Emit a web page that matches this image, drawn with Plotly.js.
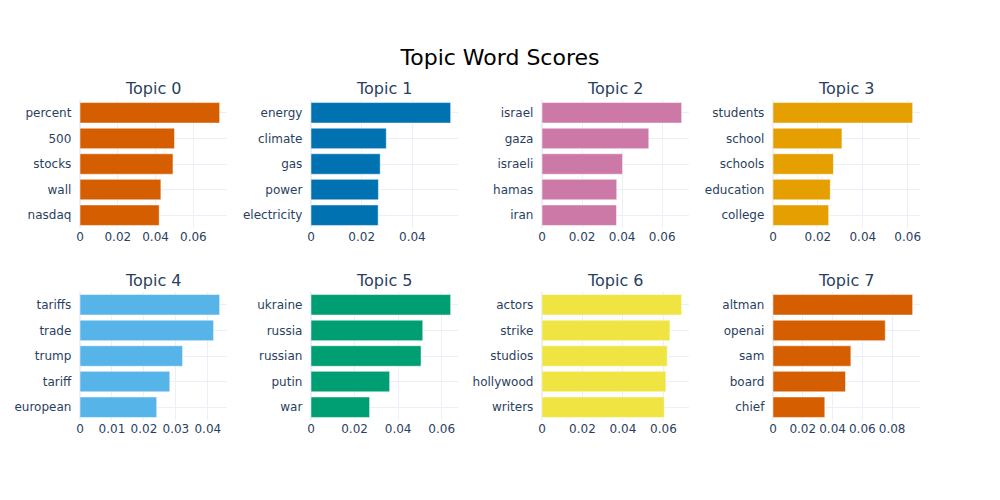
<!DOCTYPE html>
<html>
<head>
<meta charset="utf-8">
<script src="https://cdn.plot.ly/plotly-3.0.1.min.js"></script>
<style>
  html, body { margin: 0; padding: 0; background: #fff; }
  #chart { width: 1000px; height: 500px; }
</style>
</head>
<body>
<div id="chart"></div>
<script>
// Topic word scores, top 5 words per topic (highest first)
const topicNames = ['Topic 0', 'Topic 1', 'Topic 2', 'Topic 3', 'Topic 4', 'Topic 5', 'Topic 6', 'Topic 7'];

const topic0Words  = ['percent', '500', 'stocks', 'wall', 'nasdaq'];
const topic0Scores = [0.0739, 0.0500, 0.0492, 0.0428, 0.0419];

const topic1Words  = ['energy', 'climate', 'gas', 'power', 'electricity'];
const topic1Scores = [0.0551, 0.0297, 0.0273, 0.0266, 0.0265];

const topic2Words  = ['israel', 'gaza', 'israeli', 'hamas', 'iran'];
const topic2Scores = [0.0697, 0.0533, 0.0402, 0.0373, 0.0372];

const topic3Words  = ['students', 'school', 'schools', 'education', 'college'];
const topic3Scores = [0.0622, 0.0307, 0.0269, 0.0255, 0.0248];

const topic4Words  = ['tariffs', 'trade', 'trump', 'tariff', 'european'];
const topic4Scores = [0.0437, 0.0418, 0.0321, 0.0281, 0.0240];

const topic5Words  = ['ukraine', 'russia', 'russian', 'putin', 'war'];
const topic5Scores = [0.0641, 0.0513, 0.0505, 0.0361, 0.0269];

const topic6Words  = ['actors', 'strike', 'studios', 'hollywood', 'writers'];
const topic6Scores = [0.0690, 0.0632, 0.0619, 0.0612, 0.0604];

const topic7Words  = ['altman', 'openai', 'sam', 'board', 'chief'];
const topic7Scores = [0.0938, 0.0754, 0.0523, 0.0487, 0.0348];

const colors = ['#D55E00', '#0072B2', '#CC79A7', '#E69F00', '#56B4E9', '#009E73', '#F0E442'];

const allWords  = [topic0Words, topic1Words, topic2Words, topic3Words, topic4Words, topic5Words, topic6Words, topic7Words];
const allScores = [topic0Scores, topic1Scores, topic2Scores, topic3Scores, topic4Scores, topic5Scores, topic6Scores, topic7Scores];

const nCols = 4, nRows = 2;
const hSpace = 0.1, vSpace = 0.2;
const cellW = (1 - hSpace * (nCols - 1)) / nCols;
const cellH = (1 - vSpace * (nRows - 1)) / nRows;

const traces = [];
const annotations = [];
const layout = {
  width: 1000, height: 500,
  paper_bgcolor: '#fff', plot_bgcolor: '#fff',
  showlegend: false,
  margin: { l: 80, r: 80, t: 100, b: 80 },
  font: { family: '"DejaVu Sans", Verdana, sans-serif', color: '#2a3f5f' },
  title: {
    text: 'Topic Word Scores', x: 0.5, xanchor: 'center', yanchor: 'top',
    font: { size: 22, color: 'black' }
  },
};

allWords.forEach((words, i) => {
  const row = Math.floor(i / nCols);
  const col = i % nCols;
  const n = i + 1;
  const xa = n === 1 ? 'x' : 'x' + n;
  const ya = n === 1 ? 'y' : 'y' + n;
  const x0 = col * (cellW + hSpace);
  const y1 = 1 - row * (cellH + vSpace);

  traces.push({
    type: 'bar', orientation: 'h',
    x: allScores[i].slice().reverse(),
    y: words.slice().reverse(),
    xaxis: xa, yaxis: ya,
    marker: { color: colors[i % colors.length], line: { color: 'white', width: 0.5 } },
  });

  layout['xaxis' + (n === 1 ? '' : n)] = {
    domain: [x0, x0 + cellW], anchor: ya,
    showgrid: true, gridcolor: '#EBF0F8', zeroline: true, zerolinecolor: '#EBF0F8', zerolinewidth: 2,
    ticks: '', automargin: true,
  };
  layout['yaxis' + (n === 1 ? '' : n)] = {
    domain: [y1 - cellH, y1], anchor: xa,
    showgrid: true, gridcolor: '#EBF0F8', ticks: '', ticksuffix: '  ', automargin: true,
  };
  annotations.push({
    text: topicNames[i], xref: 'paper', yref: 'paper',
    x: x0 + cellW / 2, y: y1, xanchor: 'center', yanchor: 'bottom',
    showarrow: false, font: { size: 16 }
  });
});
layout.annotations = annotations;

Plotly.newPlot('chart', traces, layout, { displayModeBar: false, responsive: false });
</script>
</body>
</html>
